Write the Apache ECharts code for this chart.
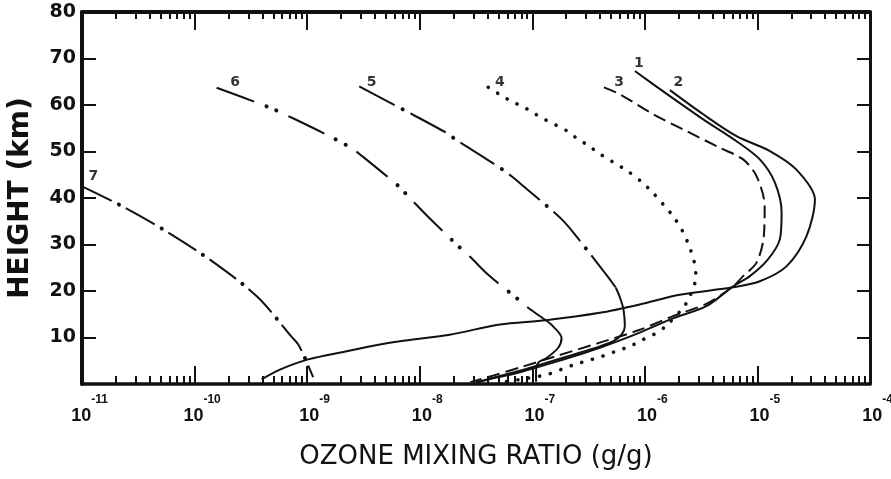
<!DOCTYPE html>
<html><head><meta charset="utf-8">
<script src="https://cdn.jsdelivr.net/npm/echarts@6/dist/echarts.min.js"></script>
<style>html,body{margin:0;padding:0;background:#fff}#c{width:891px;height:479px}</style>
</head><body><div id="c"></div>
<script>
// Axis ticks
const xDecadeExponents = [-11, -10, -9, -8, -7, -6, -5, -4];
const heightTicks = [10, 20, 30, 40, 50, 60, 70, 80];

// Curve 1 (solid) – ozone mixing ratio (g/g) vs height (km)
const c1Ratio = [8.15e-7, 1.67e-6, 3.30e-6, 6.52e-6, 1.05e-5, 1.43e-5, 1.64e-5, 1.58e-5, 1.24e-5, 8.57e-6, 6.08e-6, 3.55e-6, 1.78e-6, 8.9e-7, 3.98e-7, 1.58e-7, 7.9e-8, 3.98e-8, 3.16e-8];
const c1Height = [67.3, 61.9, 56.9, 52.2, 48.3, 43.3, 36.8, 31.1, 26.8, 23.2, 21.0, 16.8, 14.1, 11.0, 7.8, 4.7, 2.6, 0.9, 0.3];

// Curve 2 (solid)
const c2Ratio = [1.67e-6, 3.30e-6, 6.52e-6, 1.29e-5, 2.22e-5, 3.24e-5, 2.73e-5, 1.81e-5, 1.05e-5, 6.08e-6, 2.04e-6, 9.0e-7, 3.98e-7, 1.32e-7, 5.15e-8, 1.85e-8, 6.67e-9, 4.43e-9, 2.24e-9, 1.02e-9, 5.73e-10, 3.94e-10];
const c2Height = [63.2, 58.0, 53.3, 50.1, 46.1, 39.7, 31.8, 25.3, 22.1, 20.8, 19.2, 17.1, 15.3, 13.7, 12.8, 10.6, 9.2, 8.5, 7.05, 5.3, 3.1, 1.0];

// Curve 3 (dashed)
const c3Ratio = [4.33e-7, 6.0e-7, 1.19e-6, 2.34e-6, 4.63e-6, 7.46e-6, 9.82e-6, 1.16e-5, 1.14e-5, 9.82e-6, 7.46e-6, 6.08e-6, 3.55e-6, 1.78e-6, 8.9e-7, 3.98e-7, 1.58e-7, 7.9e-8, 4.47e-8, 2.82e-8];
const c3Height = [63.8, 62.3, 58.0, 54.4, 50.8, 48.3, 44.7, 38.2, 31.8, 26.1, 23.2, 21.0, 17.3, 14.6, 11.6, 8.9, 5.9, 3.6, 1.8, 0.4];

// Curve 4 (dotted)
const c4Ratio = [4.06e-8, 5.52e-8, 6.78e-8, 8.47e-8, 1.04e-7, 1.29e-7, 1.62e-7, 2.01e-7, 2.47e-7, 3.13e-7, 3.98e-7, 5.24e-7, 7.02e-7, 9.33e-7, 1.17e-6, 1.46e-6, 1.78e-6, 2.16e-6, 2.48e-6, 2.74e-6, 2.84e-6, 2.51e-6, 2.22e-6, 1.51e-6, 1.19e-6, 9.33e-7, 7.36e-7, 5.6e-7, 4.35e-7, 2.39e-7, 1.88e-7, 1.43e-7, 1.17e-7, 7.8e-8, 5.1e-8];
const c4Height = [63.8, 61.8, 60.6, 59.5, 58.2, 56.9, 55.7, 54.5, 52.9, 51.3, 49.5, 47.7, 45.8, 43.5, 41.2, 38.6, 36.1, 32.9, 29.6, 26.3, 23.05, 18.9, 16.6, 12.3, 10.6, 9.4, 8.1, 7.1, 6.1, 4.2, 3.3, 2.2, 1.7, 1.0, 0.3];

// Curve 5 (dash-dot above, solid below)
const c5UpperRatio = [2.90e-9, 7.14e-9, 1.73e-8, 2.13e-8, 2.52e-8, 5.45e-8, 6.68e-8, 8.2e-8, 1.62e-7, 1.95e-7, 2.31e-7, 4.72e-7, 5.53e-7];
const c5UpperHeight = [64.0, 59.0, 54.0, 52.4, 51.3, 46.1, 44.5, 42.7, 36.6, 34.7, 32.6, 23.0, 20.7];
const c5LowerRatio = [5.53e-7, 6.03e-7, 6.46e-7, 6.64e-7, 6.21e-7, 5.25e-7, 3.98e-7, 1.58e-7, 7.9e-8, 3.98e-8, 3.16e-8];
const c5LowerHeight = [20.7, 18.5, 16.0, 12.4, 10.6, 9.2, 8.1, 5.1, 2.9, 1.0, 0.4];

// Curve 6 (dash-dot-dot above, solid below)
const c6UpperRatio = [1.57e-10, 4.58e-10, 7.4e-10, 1.58e-9, 2.48e-9, 3.08e-9, 6.53e-9, 7.74e-9, 1.15e-8, 2.28e-8, 2.79e-8, 4.06e-8, 7.5e-8, 9.2e-8, 1.09e-7, 1.32e-7];
const c6UpperHeight = [63.7, 59.5, 57.2, 53.3, 50.7, 49.0, 42.5, 40.6, 36.3, 29.3, 27.4, 23.5, 18.2, 16.4, 15.1, 13.7];
const c6LowerRatio = [1.32e-7, 1.53e-7, 1.82e-7, 1.70e-7, 1.34e-7, 1.13e-7, 1.08e-7, 1.08e-7];
const c6LowerHeight = [13.7, 12.4, 9.9, 7.8, 5.6, 4.6, 3.0, 0.5];

// Curve 7 (dash-dot)
const c7Ratio = [1.0e-11, 2.33e-11, 5.73e-11, 1.47e-10, 3.63e-10, 7.43e-10, 8.34e-10, 9.55e-10, 1.02e-9, 1.13e-9];
const c7Height = [42.5, 38.1, 32.7, 26.2, 18.7, 9.9, 8.5, 5.6, 4.0, 1.5];

// Curve number labels: [ratio, height, text]
const labelRatio = [8.85e-7, 1.98e-6, 5.92e-7, 5.15e-8, 3.74e-9, 2.29e-10, 1.26e-11];
const labelHeight = [68.9, 64.8, 64.8, 64.9, 64.8, 64.8, 44.6];
const labelText = ['1', '2', '3', '4', '5', '6', '7'];

const INK = '#111';
function pts(r, h) { return r.map((v, i) => [Math.log10(v), h[i]]); }
function line(data, style, extra) {
  return Object.assign({
    type: 'line', data: data, xAxisIndex: 0, yAxisIndex: 0,
    showSymbol: false, symbol: 'none', smooth: 0.3, silent: true,
    lineStyle: Object.assign({ color: INK, width: 2 }, style)
  }, extra || {});
}

const minorLogs = [];
for (let e = -11; e < -4; e++) for (let k = 2; k <= 9; k++) minorLogs.push(e + Math.log10(k));

const c5u = pts(c5UpperRatio, c5UpperHeight);
const c6u = pts(c6UpperRatio, c6UpperHeight);
const c7 = pts(c7Ratio, c7Height);

const series = [
  line(pts(c1Ratio, c1Height), {}),
  line(pts(c2Ratio, c2Height), {}),
  line(pts(c3Ratio, c3Height), { type: [13, 6] }),
  line(pts(c4Ratio, c4Height), { type: [0.1, 11], width: 3.6, cap: 'round' }),
  line(c5u, { type: [40, 18] }),
  line(c5u, { type: [0.1, 57.9], width: 4, cap: 'round', dashOffset: 9 }),
  line(pts(c5LowerRatio, c5LowerHeight), {}),
  line(c6u, { type: [40, 37] }),
  line(c6u, { type: [0.1, 10.9, 0.1, 65.9], width: 4, cap: 'round', dashOffset: 24 }),
  line(pts(c6LowerRatio, c6LowerHeight), {}),
  line(c7, { type: [33, 16] }),
  line(c7, { type: [0.1, 48.9], width: 4, cap: 'round', dashOffset: 8 }),
  {
    type: 'scatter', silent: true,
    data: labelRatio.map((v, i) => ({ value: [Math.log10(v), labelHeight[i]], name: labelText[i] })),
    symbolSize: 1, itemStyle: { color: 'rgba(0,0,0,0)' },
    label: { show: true, position: 'inside', formatter: p => p.name, color: '#000',
      fontFamily: 'DejaVu Sans', fontWeight: 'bold', fontSize: 14 }
  }
];

const axisLineStyle = w => ({ show: true, lineStyle: { color: INK, width: w } });
const xBase = { type: 'value', min: -11, max: -4, splitLine: { show: false } };

const option = {
  animation: false,
  backgroundColor: '#fff',
  grid: { left: 82, right: 21, top: 12, bottom: 95, outerBoundsMode: 'none' },
  xAxis: [
    Object.assign({}, xBase, {
      position: 'bottom', interval: 1,
      axisLine: axisLineStyle(3.5),
      axisTick: { show: true, inside: true, length: 18, lineStyle: { color: INK, width: 2 } },
      axisLabel: {
        margin: 10,
        formatter: v => '{b|10}{s|' + Math.round(v) + '}',
        rich: {
          b: { fontFamily: 'Liberation Sans', fontWeight: 'bold', fontSize: 18, lineHeight: 31, verticalAlign: 'bottom', padding: [0, 0, 0, 15], color: INK },
          s: { fontFamily: 'Liberation Sans', fontWeight: 'bold', fontSize: 12, lineHeight: 19, verticalAlign: 'top', color: INK }
        }
      },
      name: 'OZONE MIXING RATIO (g/g)', nameLocation: 'middle', nameGap: 60,
      nameTextStyle: { fontFamily: 'DejaVu Sans', fontSize: 26, color: INK }
    }),
    Object.assign({}, xBase, {
      position: 'bottom',
      axisLine: { show: false },
      axisTick: { show: true, inside: true, length: 8, customValues: minorLogs, lineStyle: { color: INK, width: 2 } },
      axisLabel: { show: false }
    }),
    Object.assign({}, xBase, {
      position: 'top', interval: 1,
      axisLine: axisLineStyle(4),
      axisTick: { show: true, inside: true, length: 18, lineStyle: { color: INK, width: 2 } },
      axisLabel: { show: false }
    }),
    Object.assign({}, xBase, {
      position: 'top',
      axisLine: { show: false },
      axisTick: { show: true, inside: true, length: 7, customValues: minorLogs, lineStyle: { color: INK, width: 2 } },
      axisLabel: { show: false }
    })
  ],
  yAxis: [
    {
      type: 'value', min: 0, max: 80, interval: 10, position: 'left',
      axisLine: axisLineStyle(4),
      axisTick: { show: true, inside: true, length: 14, lineStyle: { color: INK, width: 2 } },
      axisLabel: { margin: 6, formatter: v => (heightTicks.indexOf(v) >= 0 ? String(v) : ''),
        fontFamily: 'DejaVu Sans', fontWeight: 'bold', fontSize: 19, color: INK },
      splitLine: { show: false },
      name: 'HEIGHT (km)', nameLocation: 'middle', nameGap: 47,
      nameTextStyle: { fontFamily: 'DejaVu Sans', fontWeight: 'bold', fontSize: 28, color: INK }
    },
    {
      type: 'value', min: 0, max: 80, interval: 10, position: 'right',
      axisLine: axisLineStyle(3),
      axisTick: { show: true, inside: true, length: 13, lineStyle: { color: INK, width: 2 } },
      axisLabel: { show: false }, splitLine: { show: false }
    }
  ],
  series: series
};

const chart = echarts.init(document.getElementById('c'));
chart.setOption(option);
</script>
</body></html>
